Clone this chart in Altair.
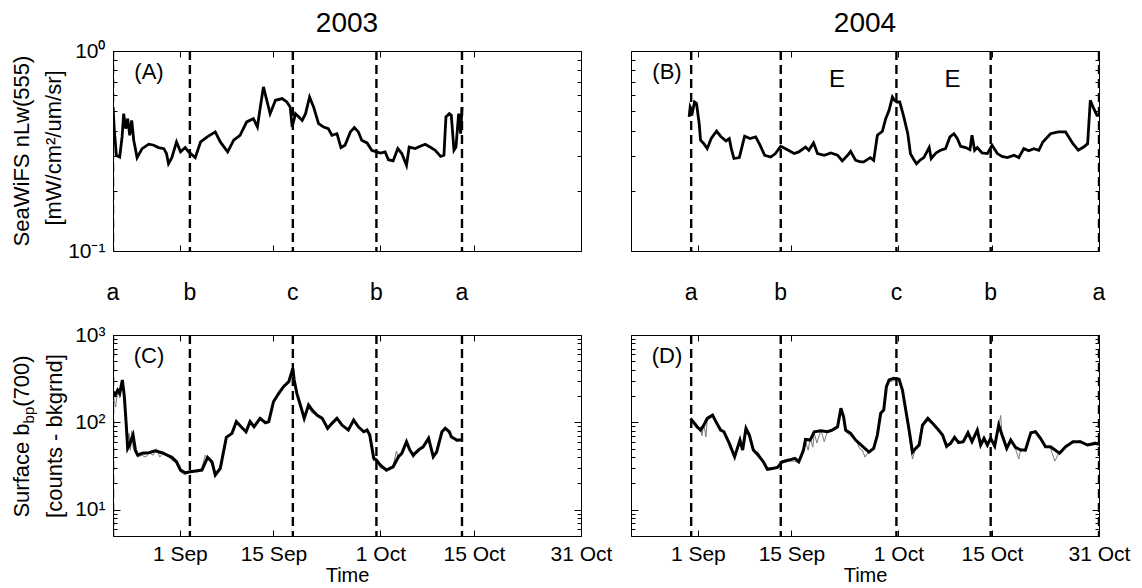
import altair as alt
import pandas as pd

FONT = "Liberation Sans"
W = 468          # plot width of every panel
H_TOP = 200      # nLw panels
H_BOT = 201      # bbp panels

# ---------------- SeaWiFS nLw(555), 2003 (days after 22 Aug) ----------------
a_day = [0.0, 0.2, 0.5, 1.0, 1.36, 1.6, 1.9, 2.2, 2.5, 2.8, 3.1, 3.6, 4.35, 5.35, 6.1, 6.8,
         7.6, 8.0, 8.3, 8.8, 9.5, 10.1, 10.8, 11.3, 12.3, 13.1, 14.1, 15.3, 16.05, 17.15, 18.05,
         19.0, 20.0, 21.0, 21.6, 22.0, 22.5, 23.0, 23.5, 24.3, 25.3, 26.0, 26.5, 26.8, 27.3, 27.8,
         28.3, 28.8, 29.4, 30.0, 30.75, 31.5, 32.2, 32.75, 33.5, 34.1, 34.7, 35.5, 36.1, 36.7,
         37.2, 38.0, 38.7, 39.4, 40.0, 40.7, 41.2, 41.9, 42.6, 43.2, 43.9, 44.3, 45.2, 45.95,
         46.7, 47.4, 48.2, 49.0, 49.5, 49.8, 50.3, 50.6, 51.0, 51.3, 51.7, 52.0, 52.2]
a_nlw = [0.525, 0.401, 0.301, 0.295, 0.372, 0.486, 0.409, 0.459, 0.379, 0.450, 0.358, 0.293,
         0.325, 0.342, 0.338, 0.329, 0.325, 0.307, 0.273, 0.293, 0.351, 0.313, 0.329, 0.313,
         0.293, 0.351, 0.372, 0.394, 0.351, 0.313, 0.358, 0.379, 0.442, 0.459, 0.417, 0.515,
         0.661, 0.567, 0.486, 0.567, 0.578, 0.556, 0.525, 0.417, 0.486, 0.468, 0.450, 0.486,
         0.589, 0.525, 0.433, 0.417, 0.409, 0.379, 0.386, 0.329, 0.338, 0.394, 0.414, 0.394,
         0.358, 0.347, 0.319, 0.313, 0.309, 0.313, 0.286, 0.282, 0.325, 0.307, 0.268, 0.331,
         0.325, 0.334, 0.342, 0.331, 0.319, 0.297, 0.301, 0.468, 0.486, 0.477, 0.319, 0.331,
         0.486, 0.386, 0.525]

# ---------------- SeaWiFS nLw(555), 2004 ----------------
b_day = [8.7, 8.85, 9.2, 9.5, 9.8, 10.2, 10.4, 10.9, 11.4, 12.0, 12.8, 13.4, 14.2, 14.7, 15.0,
         15.4, 16.2, 16.7, 17.0, 17.8, 18.65, 19.3, 20.0, 20.9, 21.6, 22.4, 23.4, 24.4, 25.1,
         26.1, 26.6, 27.3, 27.9, 28.9, 29.9, 30.9, 31.6, 32.4, 32.85, 33.6, 34.35, 34.8, 35.8,
         36.3, 36.85, 37.6, 38.1, 38.6, 39.1, 39.4, 39.8, 40.2, 40.8, 41.4, 41.8, 42.2, 42.7,
         43.3, 43.8, 44.6, 44.9, 45.6, 46.3, 47.05, 47.7, 48.3, 48.8, 49.3, 50.05, 50.7, 51.0,
         51.4, 51.8, 52.5, 53.3, 54.0, 54.8, 55.5, 56.3, 57.3, 58.0, 58.75, 59.5, 60.25, 61.0,
         61.6, 62.75, 63.9, 65.0, 66.1, 66.9, 67.7, 68.3, 68.7, 69.1, 69.7, 70.0]
b_nlw = [0.468, 0.525, 0.495, 0.556, 0.546, 0.433, 0.358, 0.344, 0.325, 0.365, 0.398, 0.375,
         0.355, 0.365, 0.325, 0.290, 0.293, 0.342, 0.375, 0.365, 0.372, 0.338, 0.301, 0.295,
         0.307, 0.334, 0.321, 0.307, 0.313, 0.331, 0.319, 0.347, 0.307, 0.301, 0.309, 0.301,
         0.282, 0.301, 0.315, 0.284, 0.279, 0.279, 0.293, 0.284, 0.379, 0.397, 0.459, 0.505,
         0.589, 0.567, 0.556, 0.556, 0.468, 0.386, 0.307, 0.290, 0.273, 0.286, 0.293, 0.329,
         0.290, 0.309, 0.319, 0.325, 0.372, 0.386, 0.365, 0.334, 0.329, 0.321, 0.379, 0.319,
         0.329, 0.309, 0.307, 0.338, 0.307, 0.297, 0.293, 0.301, 0.293, 0.325, 0.317, 0.325,
         0.319, 0.351, 0.386, 0.394, 0.394, 0.344, 0.319, 0.331, 0.344, 0.567, 0.525, 0.477,
         0.477]

# ---------------- surface bbp(700), 2003: smoothed and raw ----------------
c_day = [0.0, 0.36, 0.7, 1.0, 1.4, 1.7, 2.0, 2.2, 2.5, 2.7, 3.0, 3.35, 3.7, 4.35, 5.35, 6.3,
         7.3, 8.1, 8.8, 9.5, 10.1, 10.8, 11.6, 12.6, 13.3, 14.15, 14.8, 15.3, 16.05, 16.95,
         17.8, 18.45, 19.15, 19.9, 20.5, 21.1, 22.0, 22.8, 23.3, 24.0, 24.8, 25.5, 26.3, 26.6,
         26.9, 27.1, 27.5, 28.1, 28.6, 29.25, 29.8, 30.5, 31.3, 32.1, 32.75, 33.5, 34.25, 35.2,
         36.0, 36.7, 37.5, 38.0, 38.4, 39.0, 39.4, 40.0, 40.9, 41.9, 42.7, 43.2, 43.9, 44.4,
         44.9, 45.7, 46.4, 47.2, 47.9, 48.4, 49.2, 49.7, 50.3, 50.6, 51.4, 52.2]
c_bbp = [224, 206, 234, 215, 306, 196, 89, 50, 55, 62.7, 71.6, 48.2, 42.2, 44.2, 44.9, 47.3,
         44.9, 42.2, 39.8, 35.4, 28.4, 26.5, 27.2, 27.9, 28.4, 39.8, 35.4, 24.9, 29.7, 67.3,
         74.8, 102, 89, 78, 102, 89, 111, 99, 102, 172, 215, 256, 292, 348, 415, 306, 215, 151,
         111, 158, 138, 121, 111, 85.3, 97.5, 111, 93.1, 81.6, 106, 89, 78, 81.6, 71.6, 38.7,
         37.0, 32.4, 28.4, 31.0, 40.4, 44.2, 60, 48.2, 42.2, 48.2, 52.5, 65.6, 40.4, 45.7, 78,
         85.3, 78, 68.4, 62.7, 62.7]
c_raw_day = [0.0, 0.4, 0.7, 1.0, 1.4, 1.7, 2.0, 2.2, 2.4, 2.6, 2.8, 3.0, 3.3, 3.7, 4.3, 4.9,
             5.4, 6.0, 6.5, 7.0, 7.6, 8.2, 8.8, 9.5, 10.1, 10.8, 11.6, 12.6, 13.3, 13.8, 14.2,
             14.8, 15.3, 16.0, 16.95, 17.8, 18.45, 19.15, 19.9, 20.5, 21.1, 22.0, 22.8, 23.3,
             24.0, 24.8, 25.5, 26.3, 26.6, 26.9, 27.1, 27.5, 28.1, 28.6, 29.25, 29.8, 30.5,
             31.3, 32.1, 32.75, 33.5, 34.25, 35.2, 36.0, 36.7, 37.5, 38.0, 38.4, 39.0, 39.4,
             40.0, 40.9, 41.9, 42.4, 42.7, 43.2, 43.9, 44.4, 44.9, 45.7, 46.4, 47.2, 47.9, 48.4,
             49.2, 49.7, 50.3, 50.6, 51.4, 52.2]
c_raw = [200, 150, 240, 190, 280, 210, 95, 60, 75, 48, 80, 52, 45, 40, 42, 40, 45, 42, 50, 40,
         46, 41, 37, 34, 27, 25, 28, 27, 30, 42, 38, 33, 26, 31, 66, 78, 98, 92, 75, 105, 86,
         108, 102, 98, 175, 225, 250, 300, 330, 430, 290, 230, 145, 115, 150, 128, 125, 108,
         88, 95, 115, 90, 84, 102, 92, 76, 84, 68, 36, 39, 30, 29, 32, 47, 38, 46, 58, 50, 39,
         50, 50, 68, 38, 48, 75, 88, 74, 70, 60, 64]

# ---------------- surface bbp(700), 2004: smoothed and raw ----------------
d_day = [8.9, 9.3, 9.9, 10.4, 10.9, 11.4, 12.2, 12.7, 13.4, 13.9, 14.7, 15.5, 15.9, 16.3, 16.7,
         17.2, 17.7, 18.3, 19.0, 19.8, 20.4, 21.15, 21.9, 22.6, 23.6, 24.5, 25.1, 25.8, 26.1,
         26.8, 27.4, 28.4, 29.4, 30.1, 30.9, 31.4, 31.8, 32.1, 32.85, 33.6, 34.6, 35.6, 36.3,
         36.85, 37.35, 37.8, 38.2, 38.6, 39.3, 40.1, 40.6, 41.1, 41.6, 42.1, 42.6, 43.1, 43.6,
         44.4, 45.1, 45.8, 46.6, 47.2, 47.8, 48.4, 49.0, 49.7, 50.4, 51.0, 51.8, 52.3, 52.8,
         53.3, 53.8, 54.4, 55.0, 55.5, 56.2, 56.8, 57.5, 58.3, 59.0, 59.8, 60.5, 61.25, 62.0,
         62.75, 64.1, 65.0, 66.1, 67.2, 68.3, 69.4, 70.0]
d_bbp = [111, 102, 89, 81.6, 93.1, 111, 121, 102, 81.6, 78, 57.4, 40.4, 50.4, 62.7, 48.2, 85.3,
         71.6, 48.2, 42.2, 35.4, 29.0, 29.7, 30.5, 35.4, 37.0, 38.7, 35.4, 48.2, 63.8, 62.7, 78,
         80.2, 78, 81.6, 89, 145, 116, 81.6, 74.8, 62.7, 53.5, 45.7, 50.4, 71.6, 127, 138, 256,
         306, 319, 311, 234, 138, 81.6, 45.7, 50.4, 55, 93.1, 111, 97.5, 85.3, 71.6, 53.5, 57.4,
         67.3, 58.6, 60, 76, 60, 81.6, 55, 65.6, 55, 65.6, 53.5, 93.1, 71.6, 50.4, 62.7, 51.8,
         48.2, 48.2, 76, 78, 65.6, 52.5, 52.5, 44.2, 52.5, 60, 60, 55, 57.4, 56]
d_raw_day = [8.9, 9.3, 9.9, 10.4, 10.6, 10.9, 11.2, 11.4, 12.2, 12.7, 13.4, 13.9, 14.7, 15.5,
             15.9, 16.3, 16.7, 17.2, 17.7, 18.3, 18.6, 19.0, 19.8, 20.4, 21.15, 21.9, 22.6,
             23.6, 24.5, 25.1, 25.8, 26.1, 26.5, 26.8, 27.2, 27.4, 27.8, 28.4, 28.9, 29.4, 30.1,
             30.9, 31.4, 31.8, 32.1, 32.85, 33.6, 34.2, 34.6, 35.0, 35.6, 36.3, 36.85, 37.35,
             37.8, 38.2, 38.6, 39.3, 40.1, 40.6, 41.1, 41.6, 42.1, 42.6, 43.1, 43.6, 44.4, 45.1,
             45.8, 46.6, 47.2, 47.8, 48.4, 49.0, 49.7, 50.4, 51.0, 51.8, 52.3, 52.8, 53.3, 53.8,
             54.4, 55.0, 55.3, 55.5, 56.2, 56.8, 57.5, 58.0, 58.3, 59.0, 59.8, 60.5, 61.25, 62.0,
             62.75, 63.4, 64.1, 65.0, 66.1, 67.2, 68.3, 69.4, 70.0]
d_raw = [105, 96, 84, 88, 70, 95, 68, 105, 118, 98, 84, 75, 60, 42, 48, 60, 50, 80, 70, 52, 44,
         46, 34, 30, 30, 31, 34, 36, 36, 34, 45, 60, 48, 66, 52, 76, 58, 82, 60, 80, 84, 86,
         140, 120, 78, 70, 64, 50, 48, 40, 47, 52, 70, 120, 145, 240, 290, 300, 320, 220, 130,
         70, 38, 52, 58, 88, 105, 100, 82, 74, 50, 60, 64, 62, 58, 72, 62, 78, 58, 62, 58, 68,
         50, 90, 120, 68, 48, 66, 50, 38, 50, 46, 74, 80, 62, 55, 50, 36, 46, 55, 58, 62, 54,
         60, 54]

# ---------------- tidal-phase markers and event labels ----------------
phase = ["a", "b", "c", "b", "a"]
mark_day_2003 = [0.0, 11.5, 26.9, 39.4, 52.2]
mark_day_2004 = [9.0, 22.4, 39.7, 53.8, 70.0]
event_day_2004 = [30.8, 48.1]
event_label = ["E", "E"]

tick_dates = [(9, 1), (9, 15), (10, 1), (10, 15), (10, 31)]
nlw_ticks = [0.1, 0.2, 0.3, 0.4, 0.5, 0.6, 0.7, 0.8, 0.9, 1.0]
bbp_ticks = [5, 6, 7, 8, 9, 10, 20, 30, 40, 50, 60, 70, 80, 90,
             100, 200, 300, 400, 500, 600, 700, 800, 900, 1000]
nlw_labels = "datum.value == 1 ? '10\u2070' : datum.value == 0.1 ? '10\u207b\u00b9' : ''"
bbp_labels = ("datum.value == 1000 ? '10\u00b3' : datum.value == 100 ? '10\u00b2' : "
              "datum.value == 10 ? '10\u00b9' : ''")
MAJOR = "abs(log(datum.value) / LN10 - round(log(datum.value) / LN10)) < 0.001"


def stamp(year, days):
    base = pd.Timestamp(year=year, month=8, day=22)
    return [(base + pd.to_timedelta(d, unit="D")).strftime("%Y-%m-%dT%H:%M:%S") for d in days]


def series(year, days, vals):
    return pd.DataFrame({"t": stamp(year, days), "v": vals})


def x_enc(year, h, labels):
    kw = dict(values=[alt.DateTime(year=year, month=m, date=d) for m, d in tick_dates],
              labels=labels, ticks=False, domain=False,
              grid=True, gridColor="black", gridWidth=1, gridOpacity=1, gridDash=[6, h - 12],
              labelExpr="timeFormat(datum.value, '%-d %b')", labelFont=FONT, labelFontSize=21,
              labelColor="black", labelPadding=7, labelFlush=False, labelOverlap=False)
    if labels:
        kw.update(title="Time", titleFont=FONT, titleFontSize=20, titleFontWeight="normal",
                  titleColor="black", titlePadding=1)
    else:
        kw.update(title=None)
    dom = [alt.DateTime(year=year, month=8, date=22), alt.DateTime(year=year, month=10, date=31)]
    return alt.X("t:T", scale=alt.Scale(domain=dom), axis=alt.Axis(**kw))


def y_enc(domain, values, label_expr, labels):
    axis = alt.Axis(values=values, labels=labels, labelExpr=label_expr, ticks=False, domain=False,
                    grid=True, gridColor="black", gridWidth=1, gridOpacity=1,
                    gridDash={"condition": {"test": MAJOR, "value": [7, W - 14]},
                              "value": [4, W - 8]},
                    labelFont=FONT, labelFontSize=21, labelColor="black", labelPadding=8,
                    labelOverlap=False, title=None)
    return alt.Y("v:Q", scale=alt.Scale(type="log", domain=domain), axis=axis)


def text_at(s, x, y, size, **kw):
    return alt.Chart(pd.DataFrame({"s": [s]})).mark_text(
        font=FONT, fontSize=size, color="black", **kw
    ).encode(x=alt.value(x), y=alt.value(y), text="s:N")


def panel(year, h, lines, mark_days, tag, y_domain, y_values, y_labels, x_labels, y_lab_on,
          extra=(), title=None, letters=False):
    xe = x_enc(year, h, x_labels)
    ye = y_enc(y_domain, y_values, y_labels, y_lab_on)
    layers = []
    for df, color, width in lines:
        layers.append(alt.Chart(df).mark_line(color=color, strokeWidth=width, clip=True)
                      .encode(x=xe, y=ye))
    marks = pd.DataFrame({"t": stamp(year, mark_days), "p": phase})
    layers.append(alt.Chart(marks).mark_rule(color="black", strokeWidth=2.4,
                                             strokeDash=[9, 5], clip=True).encode(x=xe))
    if letters:
        layers.append(alt.Chart(marks).mark_text(font=FONT, fontSize=23, color="black",
                                                 baseline="alphabetic")
                      .encode(x=xe, y=alt.value(h + 49), text="p:N"))
    layers.append(text_at(tag, 36, 21, 22, baseline="middle"))
    if title:
        # year heading centred over the panel
        layers.append(text_at(title, W / 2, -19, 28, align="center", baseline="alphabetic"))
    layers.extend(extra)
    return alt.layer(*layers).properties(width=W, height=h)


# y-axis titles drawn as rotated text so the subscript can be set smaller
top_title = [
    text_at("SeaWiFS nLw(555)", -84, 100, 22, angle=270, align="center", baseline="alphabetic"),
    text_at("[mW/cm\u00b2/um/sr]", -52, 97, 22, angle=270, align="center", baseline="alphabetic"),
]
bot_title = [
    text_at("Surface b", -84, 182.6, 22, angle=270, align="left", baseline="alphabetic"),
    text_at("bp", -79, 88.4, 15, angle=270, align="left", baseline="alphabetic"),
    text_at("(700)", -84, 71.7, 22, angle=270, align="left", baseline="alphabetic"),
    text_at("[counts - bkgrnd]", -51, 101, 22, angle=270, align="center", baseline="alphabetic"),
]

events = pd.DataFrame({"t": stamp(2004, event_day_2004), "s": event_label})
event_layer = alt.Chart(events).mark_text(font=FONT, fontSize=24, color="black",
                                          baseline="middle").encode(
    x=x_enc(2004, H_TOP, False), y=alt.value(29), text="s:N")

pA = panel(2003, H_TOP, [(series(2003, a_day, a_nlw), "black", 2.8)], mark_day_2003, "(A)",
           [0.1, 1.0], nlw_ticks, nlw_labels, False, True, extra=top_title, title="2003",
           letters=True)
pB = panel(2004, H_TOP, [(series(2004, b_day, b_nlw), "black", 2.8)], mark_day_2004, "(B)",
           [0.1, 1.0], nlw_ticks, nlw_labels, False, False, extra=[event_layer], title="2004",
           letters=True)
pC = panel(2003, H_BOT, [(series(2003, c_raw_day, c_raw), "#7a7a7a", 1.0),
                         (series(2003, c_day, c_bbp), "black", 3.0)], mark_day_2003, "(C)",
           [5, 1000], bbp_ticks, bbp_labels, True, True, extra=bot_title)
pD = panel(2004, H_BOT, [(series(2004, d_raw_day, d_raw), "#7a7a7a", 1.0),
                         (series(2004, d_day, d_bbp), "black", 3.0)], mark_day_2004, "(D)",
           [5, 1000], bbp_ticks, bbp_labels, True, False)

chart = alt.concat(
    pA, pB, pC, pD, columns=2, spacing={"row": 84, "column": 50}, bounds="flush"
).properties(
    padding={"left": 10, "top": 9, "right": 0, "bottom": 0}
).configure_view(stroke="black", strokeWidth=1)

chart.save("out.html", embed_options={"renderer": "svg", "actions": False})
